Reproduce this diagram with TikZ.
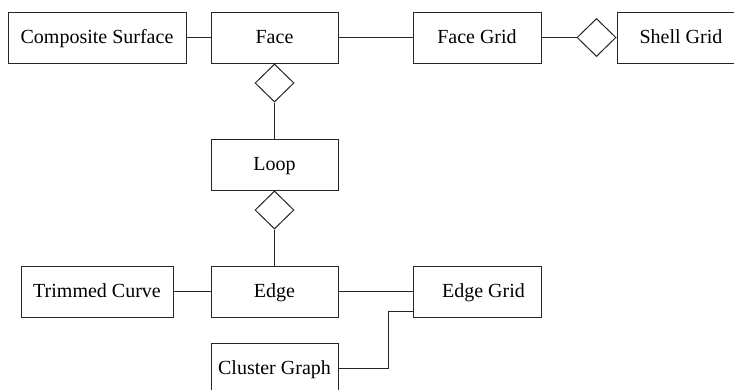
\documentclass[tikz,border=0pt]{standalone}
\usepackage{fontspec}
\setmainfont{Liberation Serif}
\usetikzlibrary{shapes.geometric}
\begin{document}
\begin{tikzpicture}[x=1pt,y=-1pt,
  line width=1pt,
  box/.style={draw=black!85, rectangle, inner sep=0pt, minimum height=51pt,
    text height=13.8pt, text depth=2.5pt,
    font=\fontsize{20}{24}\selectfont},
  agg/.style={draw=black!85, diamond, inner sep=0pt, minimum width=39pt,
    minimum height=38pt, fill=white},
  link/.style={draw=black!85, line width=1pt}]
  \useasboundingbox (0,0) rectangle (734,389);
  \clip (0,0) rectangle (734,389);

  % classes
  \node[box, minimum width=178pt] (comp)    at (97,37.5)    {Composite Surface};
  \node[box, minimum width=127pt] (face)    at (274.5,37.5) {Face};
  \node[box, minimum width=128pt] (fgrid)   at (477,37.5)   {Face Grid};
  \node[box, minimum width=128pt] (shell)   at (681,37.5)   {Shell Grid};
  \node[box, minimum width=127pt] (loop)    at (274.5,164.5){Loop};
  \node[box, minimum width=127pt] (edge)    at (274.5,291.5){Edge};
  \node[box, minimum width=152pt] (trim)    at (97,291.5)   {Trimmed Curve};
  \node[box, minimum width=128pt] (egrid)   at (477,291.5)  {\hspace*{13pt}Edge Grid};
  \node[box, minimum width=127pt] (cluster) at (274.5,368.5){Cluster Graph};

  % aggregation diamonds
  \node[agg, anchor=north] (dface)  at (face.south) {};
  \node[agg, anchor=north] (dloop)  at (loop.south) {};
  \node[agg, anchor=east]  (dshell) at (shell.west) {};

  % associations
  \draw[link] (comp) -- (face);
  \draw[link] (face) -- (fgrid);
  \draw[link] (fgrid) -- (dshell);
  \draw[link] (dface) -- (loop);
  \draw[link] (dloop) -- (edge);
  \draw[link] (trim) -- (edge);
  \draw[link] (edge) -- (egrid);
  \draw[link] (cluster.east) -- ++(50,0) |- ([yshift=6pt]egrid.south west);
\end{tikzpicture}
\end{document}
